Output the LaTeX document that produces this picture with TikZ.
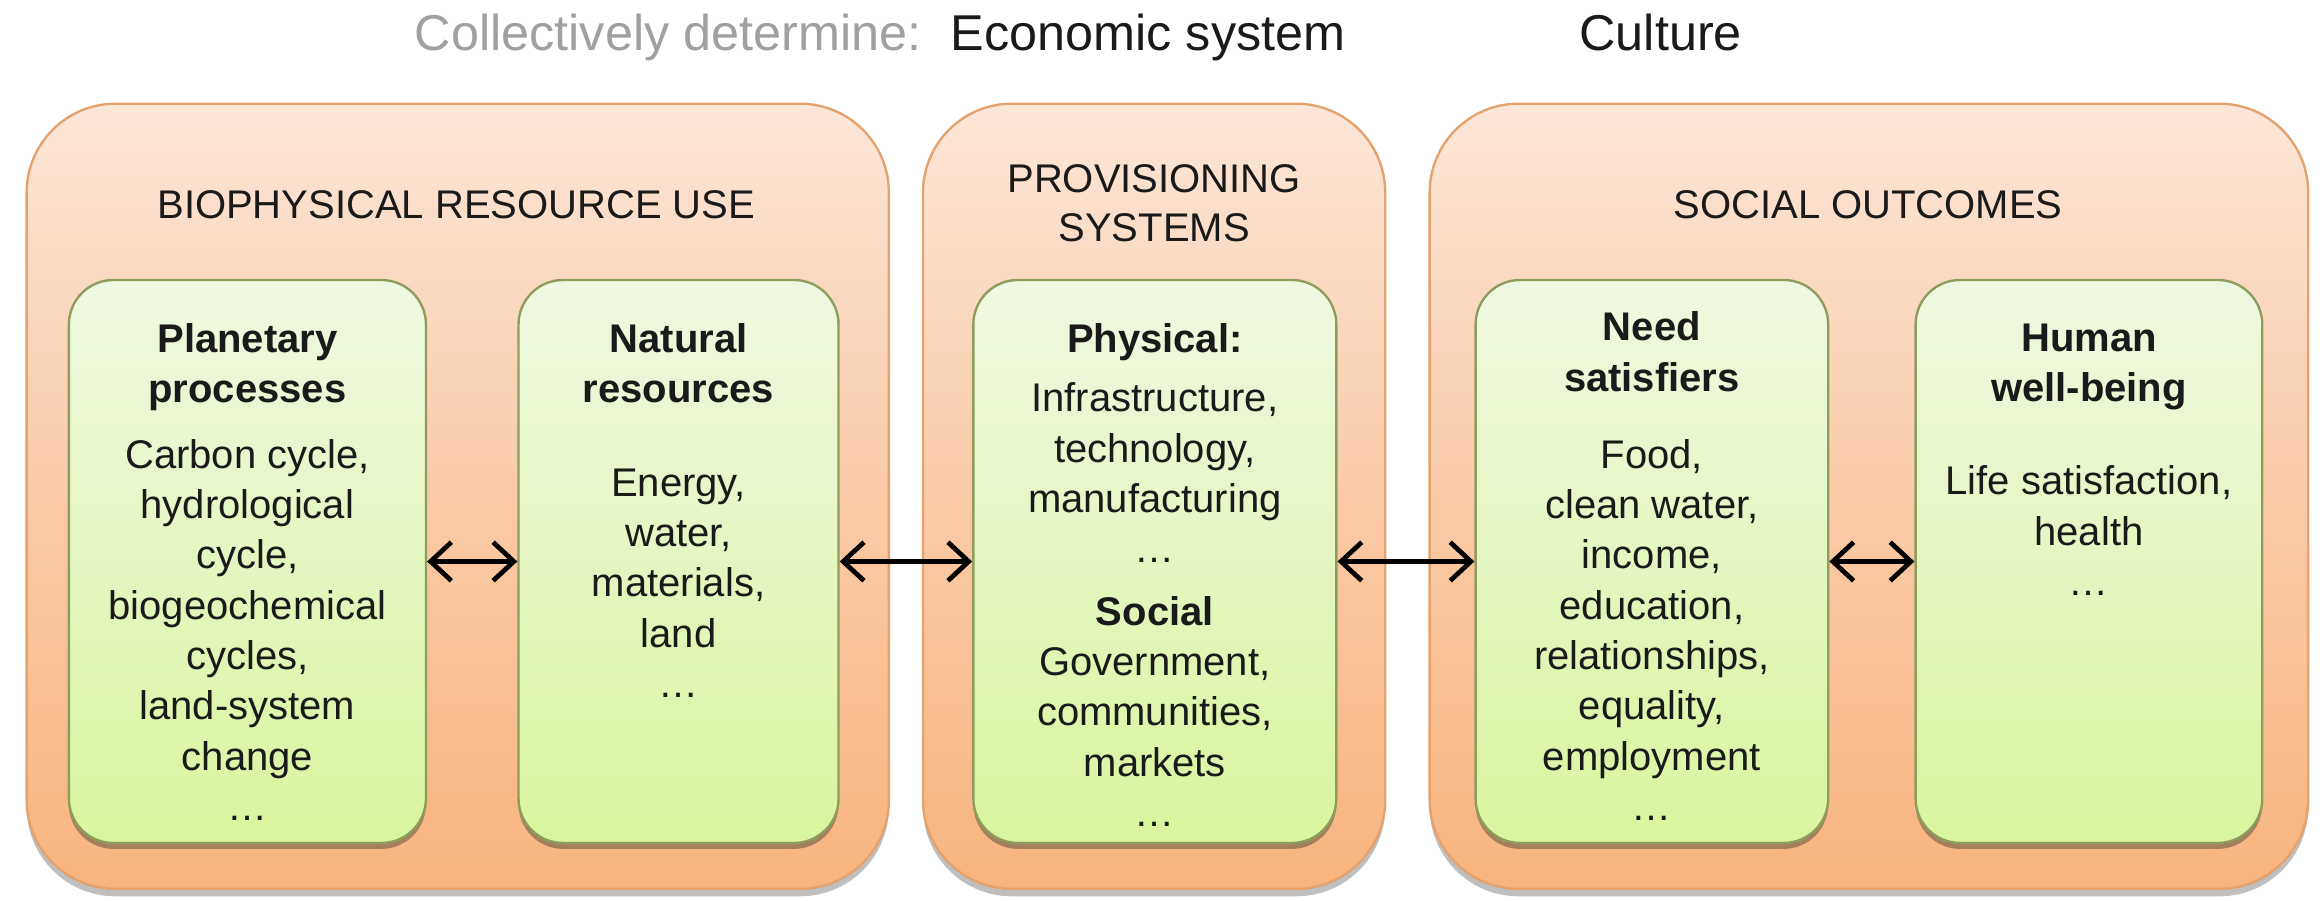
\documentclass[tikz,border=0pt]{standalone}
\usepackage{fontspec}
\setmainfont{Liberation Sans}
\usetikzlibrary{arrows.meta,shadows}
\definecolor{outtop}{HTML}{FCE6D8}
\definecolor{outbot}{HTML}{F8B47E}
\definecolor{outdraw}{HTML}{E3A26E}
\definecolor{intop}{HTML}{EFF8E2}
\definecolor{inbot}{HTML}{DAF59E}
\definecolor{indraw}{HTML}{8E9C5C}
\definecolor{txt}{HTML}{1A1A1A}
\definecolor{graytxt}{HTML}{A0A0A0}
\begin{document}
\begin{tikzpicture}[x=0.5pt,y=-0.5pt,
  outerbox/.style={rounded corners=30pt, top color=outtop, bottom color=outbot, middle color=outbot!55!outtop, draw=outdraw, line width=0.8pt,
    drop shadow={shadow xshift=0pt,shadow yshift=-2.5pt,opacity=0.25,fill=black}, inner sep=0pt, minimum height=265pt},
  innerbox/.style={rounded corners=15pt, top color=intop, bottom color=inbot, draw=indraw, line width=0.8pt,
    drop shadow={shadow xshift=0pt,shadow yshift=-2pt,opacity=0.45,fill=black!70!olive}, inner sep=0pt, minimum height=190pt},
  body/.style={font=\fontsize{13.5}{17}\selectfont, align=center, inner sep=0pt, text=txt, anchor=north},
  grouplabel/.style={font=\fontsize{13.5}{16.5}\selectfont, align=center, inner sep=0pt, text=txt},
  toptext/.style={font=\fontsize{17}{20}\selectfont, inner sep=0pt, anchor=base},
  arr/.style={{Straight Barb[length=7pt,width=13pt]}-{Straight Barb[length=7pt,width=13pt]}, line width=1.6pt, black}
]
\useasboundingbox (0,0) rectangle (1568,608);

% top line
\node[toptext, text=graytxt] (cd) at (451,34) {Collectively determine:};
\node[toptext, text=txt] (econ) at (775,34) {Economic system};
\node[toptext, text=txt] (cult) at (1121,34) {Culture};

% outer boxes
\node[outerbox, minimum width=291pt] (bio) at (309,335) {};
\node[outerbox, minimum width=156pt] (prov) at (779,335) {};
\node[outerbox, minimum width=296.5pt] (soc) at (1261.5,335) {};

\node[grouplabel] (biolab) at (308,138) {BIOPHYSICAL RESOURCE USE};
\node[grouplabel] (provlab) at (779,137) {PROVISIONING\\SYSTEMS};
\node[grouplabel] (soclab) at (1261,138) {SOCIAL OUTCOMES};

% inner boxes
\node[innerbox, minimum width=120.5pt] (plan) at (167,379) {};
\node[innerbox, minimum width=108pt] (nat) at (458,379) {};
\node[innerbox, minimum width=122.5pt] (phys) at (779.5,379) {};
\node[innerbox, minimum width=119pt] (need) at (1115,379) {};
\node[innerbox, minimum width=117pt] (hum) at (1410,379) {};

% texts
\node[body] (plantxt) at (167,218) {\textbf{Planetary}\\\textbf{processes}\\[5pt]Carbon cycle,\\hydrological\\cycle,\\biogeochemical\\cycles,\\land-system\\change\\\ldots};
\node[body] (nattxt) at (458,218) {\textbf{Natural}\\\textbf{resources}\\[14.5pt]Energy,\\water,\\materials,\\land\\\ldots};
\node[body] (phystxt) at (779.5,218) {\textbf{Physical:}\\[3pt]Infrastructure,\\technology,\\manufacturing\\\ldots\\[4pt]\textbf{Social}\\Government,\\communities,\\markets\\\ldots};
\node[body] (needtxt) at (1115,210) {\textbf{Need}\\\textbf{satisfiers}\\[9pt]Food,\\clean water,\\income,\\education,\\relationships,\\equality,\\employment\\\ldots};
\node[body] (humtxt) at (1410,218) {\textbf{Human}\\\textbf{well-being}\\[14.5pt]Life satisfaction,\\health\\\ldots};

% arrows
\draw[arr] (plan.east) -- (nat.west);
\draw[arr] (nat.east) -- (phys.west);
\draw[arr] (phys.east) -- (need.west);
\draw[arr] (need.east) -- (hum.west);
\end{tikzpicture}
\end{document}
